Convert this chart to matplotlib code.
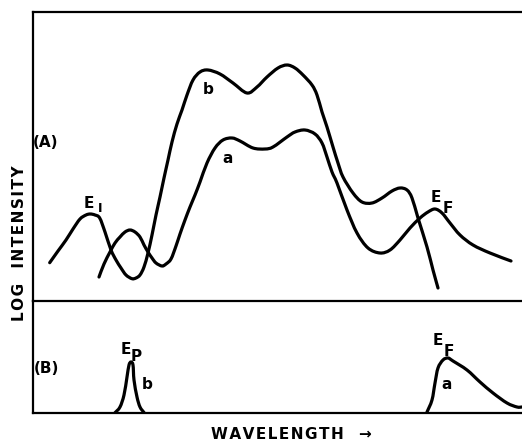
import matplotlib
matplotlib.use("Agg")
import matplotlib.pyplot as plt
from matplotlib.path import Path
from matplotlib.patches import PathPatch

# ---- data (arbitrary wavelength units, arbitrary log-intensity units) ----
# Panel (A), curve E1 continuing into curve b
wl_b = [16.7, 25, 33, 40, 47, 53, 57.3, 62, 66.7, 72, 78, 83, 88, 93, 99, 103, 107, 111, 115,
        119, 123, 127, 131, 135, 139, 144, 149, 154, 160, 167, 175, 187, 200, 214, 224, 234,
        245, 254, 262, 270, 279, 284, 289, 294, 300, 305, 310, 320, 329, 339, 349, 359, 367,
        374, 379, 385, 394, 400, 405]
li_b = [38.3, 50, 61, 72, 82, 86, 87, 86, 83, 69, 51, 41, 33, 26, 22.3, 23, 26, 34, 48,
        66, 86, 104, 123, 141, 159, 177, 191, 206, 221, 229, 231, 227, 218, 208, 214, 224,
        233, 236, 233, 226, 216, 206, 189, 174, 154, 138, 124, 108, 99, 98, 103, 110, 113,
        111, 103, 83, 54, 31, 13]

# Panel (A), curve a continuing into E_F
wl_a = [66, 71, 77, 82, 87, 92, 97, 102, 107, 111, 115, 119, 123, 129, 133, 138, 143, 147,
        152, 157, 162, 167, 174, 182, 190, 199, 207, 220, 232, 240, 254, 262, 272, 282, 289, 294,
        299, 304, 314, 324, 335, 347, 357, 367, 377, 387, 395, 402, 409, 417, 427, 440, 457, 478]
li_a = [24, 37, 49, 58, 64, 69, 71, 69, 64, 56, 49, 43, 38, 35, 37, 42, 55, 67,
        81, 94, 106, 119, 138, 153, 161, 163, 160, 153, 152, 154, 164, 169, 171, 167, 158, 144,
        129, 118, 91, 68, 53, 48, 51, 61, 73, 83, 89, 92, 88, 78, 66, 56, 48, 40]

# Panel (B), E_P (curve b) and E_F (curve a)
wl_p = [82, 87, 91, 94, 96, 98, 100, 101, 104, 107, 111]
li_p = [0.3, 6, 18, 36, 48, 51, 48, 33, 16, 6, 0.5]
wl_f = [394, 399, 402, 405, 410, 415, 420, 434, 447, 460, 474, 484, 489]
li_f = [1, 13, 30, 45, 53, 55, 52, 43, 31, 20, 10, 6, 6]

W, H = 522, 440
fig = plt.figure(figsize=(W / 100, H / 100), dpi=100)
fig.patch.set_facecolor("white")

x0, x1 = 33, 522
yt, ym, yb = 12, 301, 413
ax_a = fig.add_axes([x0 / W, (H - ym) / H, (x1 - x0) / W, (ym - yt) / H])
ax_b = fig.add_axes([x0 / W, (H - yb) / H, (x1 - x0) / W, (yb - ym) / H])


def smooth_curve(ax, xs, ys, lw=2.3):
    """Draw a smooth pen-like stroke through the read points (Catmull-Rom as Bezier)."""
    pts = list(zip(xs, ys))
    verts = [pts[0]]
    codes = [Path.MOVETO]
    n = len(pts)
    for i in range(n - 1):
        p0 = pts[i - 1] if i > 0 else pts[i]
        p1 = pts[i]
        p2 = pts[i + 1]
        p3 = pts[i + 2] if i + 2 < n else pts[i + 1]
        c1 = (p1[0] + (p2[0] - p0[0]) / 6.0, p1[1] + (p2[1] - p0[1]) / 6.0)
        c2 = (p2[0] - (p3[0] - p1[0]) / 6.0, p2[1] - (p3[1] - p1[1]) / 6.0)
        verts += [c1, c2, p2]
        codes += [Path.CURVE4] * 3
    patch = PathPatch(Path(verts, codes), facecolor="none", edgecolor="black", lw=lw,
                      capstyle="round", joinstyle="round")
    ax.add_patch(patch)


smooth_curve(ax_a, wl_b, li_b)
smooth_curve(ax_a, wl_a, li_a)
smooth_curve(ax_b, wl_p, li_p)
smooth_curve(ax_b, wl_f, li_f)

ax_a.set_xlim(0, x1 - x0)
ax_a.set_ylim(0, ym - yt)
ax_b.set_xlim(0, x1 - x0)
ax_b.set_ylim(0, yb - ym)

for ax in (ax_a, ax_b):
    ax.set_xticks([])
    ax.set_yticks([])
    ax.set_facecolor("none")
    ax.spines["right"].set_visible(False)
    for s in ax.spines.values():
        s.set_linewidth(1.6)
ax_b.spines["top"].set_visible(False)

fs = 11
tk = dict(color="black", ha="center", va="center", fontsize=fs, fontweight="bold")
# panel A labels
ax_a.text(13, 159, "(A)", **tk)
ax_a.text(175, 212, "b", **tk)
ax_a.text(195, 143, "a", **tk)
ax_a.text(56, 98, "E", **tk)
ax_a.text(67, 93, "I", **dict(tk, fontsize=9))
ax_a.text(403, 104, "E", **tk)
ax_a.text(415, 93, "F", **tk)
# panel B labels
ax_b.text(13, 45, "(B)", **tk)
ax_b.text(93, 64, "E", **tk)
ax_b.text(103, 57, "P", **tk)
ax_b.text(114, 29, "b", **tk)
ax_b.text(405, 73, "E", **tk)
ax_b.text(416, 62, "F", **tk)
ax_b.text(414, 29, "a", **tk)

ts = "\u200a"
fig.text(20 / W, 1 - 243 / H, ts.join("LOG") + "\u2002\u2002" + ts.join("INTENSITY"),
         rotation=90, ha="center", va="center", fontsize=fs, fontweight="bold")
fig.text(291 / W, 1 - 434 / H, ts.join("WAVELENGTH") + "\u2002\u2002\u2192",
         ha="center", va="center", fontsize=fs, fontweight="bold")

fig.savefig("out.png", dpi=100, facecolor="white")
